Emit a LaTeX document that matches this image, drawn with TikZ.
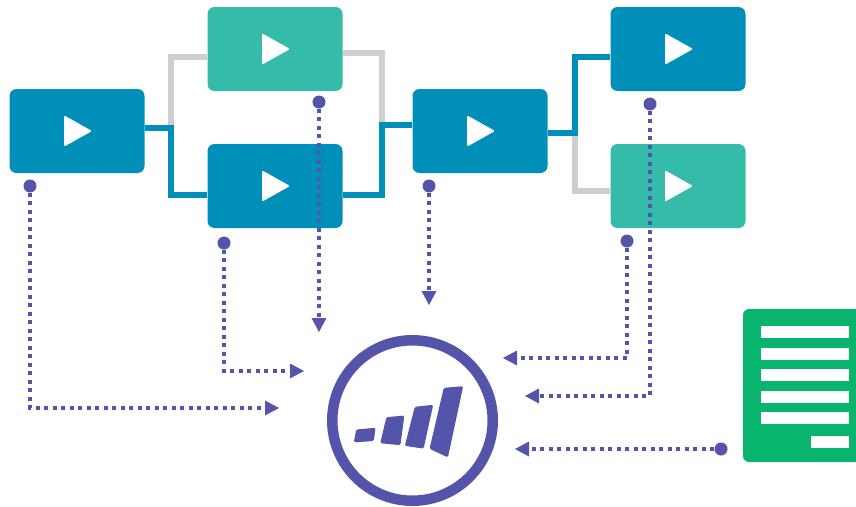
\documentclass[tikz,border=0pt]{standalone}
\usetikzlibrary{arrows.meta}
\definecolor{clipblue}{HTML}{008FB8}
\definecolor{clipteal}{HTML}{35BBA9}
\definecolor{wiregray}{HTML}{CFCFCF}
\definecolor{trackpurple}{HTML}{5554AB}
\definecolor{formgreen}{HTML}{09B46E}
\tikzset{
  clip box/.style={rectangle,rounded corners=7pt,minimum width=135pt,minimum height=84pt,inner sep=0pt,fill=#1},
  play/.style={fill=white,draw=white,line width=2pt,line join=round},
  wire/.style={line width=6pt,#1},
  track/.style={trackpurple,line width=4pt,dash pattern=on 4pt off 4.5pt,-{Triangle[length=14pt,width=15pt,line width=0pt]}},
  track dot/.style={circle,fill=trackpurple,minimum size=13pt,inner sep=0pt},
  bar/.style={fill=trackpurple,rounded corners=1.5pt}
}
\begin{document}
\begin{tikzpicture}[x=1pt,y=-1pt]
  \useasboundingbox (0,0) rectangle (856,506);
  \path
    (77,131) node[clip box=clipblue] (0){}
    (275,49) node[clip box=clipteal] (1){}
    (275,186) node[clip box=clipblue] (2){}
    (480,131) node[clip box=clipblue] (3){}
    (678,49) node[clip box=clipblue] (4){}
    (678,186) node[clip box=clipteal] (5){};
  \foreach \n in {0,...,5} {
    \draw[play,shift={(\n.center)}] (-12,-14) -- (13,0) -- (-12,14) -- cycle;
  }
  \coordinate (s0) at (171,128);
  \coordinate (s1) at (382,125);
  \coordinate (s2) at (575,133);
  % gray branches first, the blue ones run over them
  \begin{scope}[miter limit=10]
    \draw[wire=wiregray] (s0) |- ([yshift=-8pt]1.west);
    \draw[wire=wiregray] ([yshift=-4pt]1.east) -| (s1);
    \draw[wire=wiregray] (s2) |- ([yshift=-5pt]5.west);
    \draw[wire=clipblue] ([yshift=3pt]0.east) -| (s0) |- ([yshift=-9pt]2.west);
    \draw[wire=clipblue] ([yshift=-9pt]2.east) -| (s1) -- ([yshift=6pt]3.west);
    \draw[wire=clipblue] ([yshift=-2pt]3.east) -| (s2) |- ([yshift=-8pt]4.west);
  \end{scope}
  % logo
  \node[circle,draw=trackpurple,line width=10.5pt,minimum size=160.5pt,inner sep=0pt] (m) at (412.5,420.5) {};
  \fill[bar] (356.2,429.5) -- (375.5,427.8) -- (373.8,441) -- (353.8,442.4) -- cycle;
  \fill[bar] (386.4,417.2) -- (404.4,415.5) -- (400.4,445.2) -- (380.2,443.2) -- cycle;
  \fill[bar] (414.8,406.8) -- (433.2,404.8) -- (423.6,448.6) -- (404.8,445.8) -- cycle;
  \fill[bar] (443.8,387.8) -- (463.2,386.2) -- (447.9,457.4) -- (429.5,448.8) -- cycle;
  % form
  \fill[formgreen,rounded corners=6pt] (856,309) -- (743,309) -- (743,462) -- (856,462);
  \foreach \y in {326,348,369,391,412} {
    \fill[white] (761,\y) rectangle (849,\y+11.5);
  }
  \fill[white] (811,436) rectangle (849,448);
  % tracking lines
  \path
    (30,186) node[track dot] (d0){}
    (224,243) node[track dot] (d1){}
    (319,102) node[track dot] (d2){}
    (429,186) node[track dot] (d3){}
    (627,241) node[track dot] (d4){}
    (650,104) node[track dot] (d5){}
    (721,449) node[track dot] (d6){};
  \coordinate (e0) at (279,408);
  \coordinate (e1) at (304,371);
  \coordinate (e2) at (319,332);
  \coordinate (e3) at (429,305);
  \coordinate (e4) at (503,358);
  \coordinate (e5) at (525,396);
  \coordinate (e6) at (515,449);
  \draw[track] (d0) |- (e0);
  \draw[track] (d1) |- (e1);
  \draw[track] (d2) -- (e2);
  \draw[track] (d3) -- (e3);
  \draw[track] (d4) |- (e4);
  \draw[track] (d5) |- (e5);
  \draw[track] (d6) -- (e6);
\end{tikzpicture}
\end{document}
